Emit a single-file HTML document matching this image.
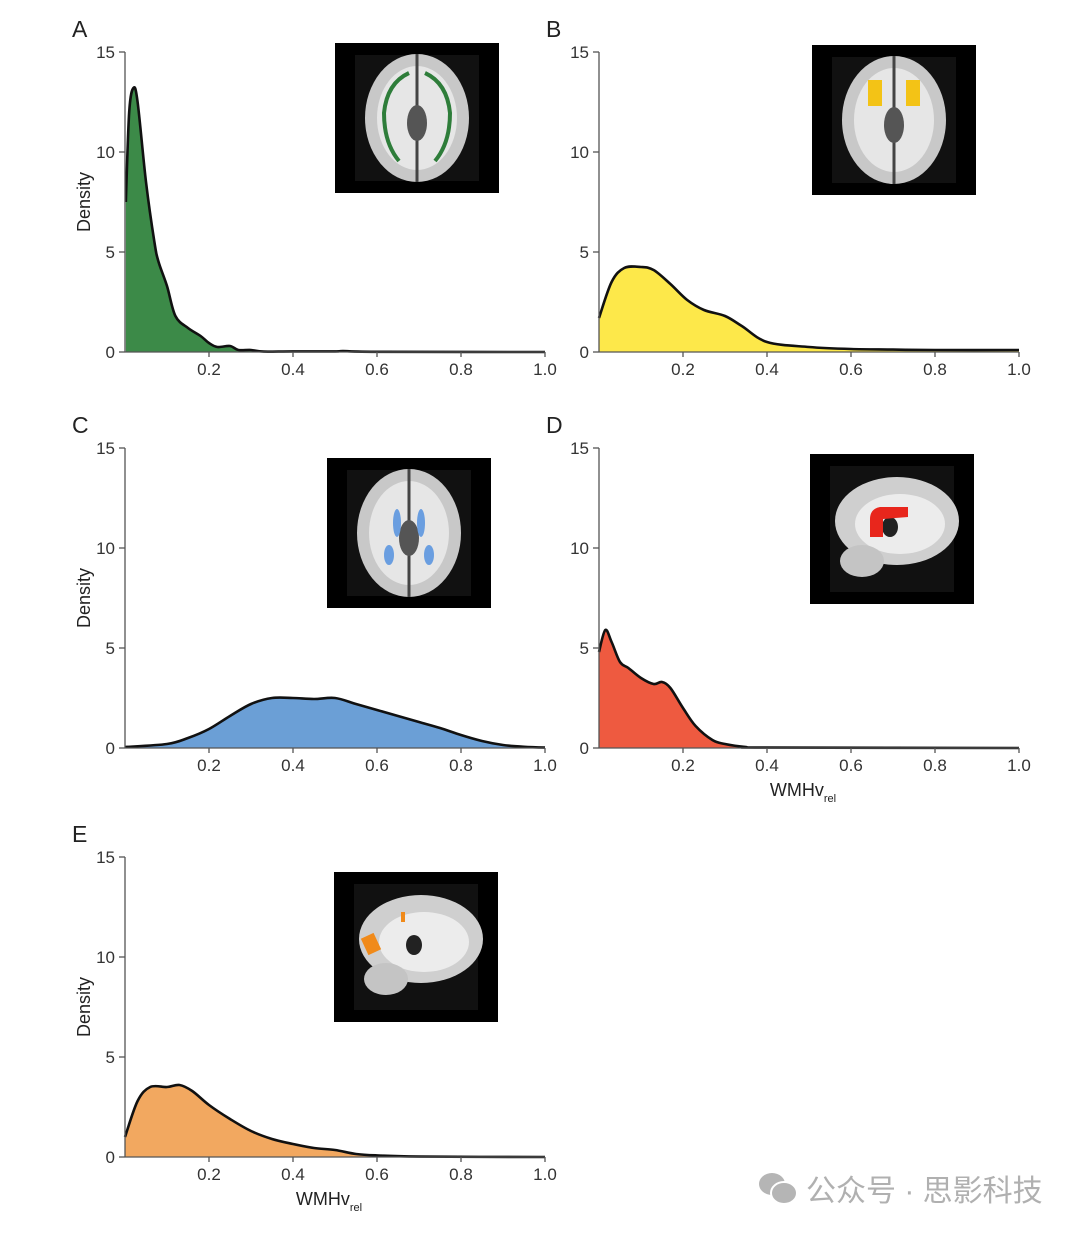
<!DOCTYPE html>
<html><head><meta charset="utf-8">
<style>
body{margin:0;background:#fff;width:1080px;height:1233px;overflow:hidden;font-family:"Liberation Sans","Noto Sans CJK SC",sans-serif;}
svg{display:block}
</style></head>
<body>
<svg id="chart" width="1080" height="1233" viewBox="0 0 1080 1233" xmlns="http://www.w3.org/2000/svg">
<g id="insets"></g>
<g id="panels"></g>
<g>
  <ellipse cx="772" cy="1184" rx="13" ry="11" fill="#b5b5b5"/>
  <ellipse cx="784" cy="1193" rx="13" ry="11" fill="#b5b5b5" stroke="#fff" stroke-width="2"/>
  <text x="806" y="1201" font-size="30" fill="#b0b0b0" font-family="'Liberation Sans','Noto Sans CJK SC',sans-serif">公众号 · 思影科技</text>
</g>
</svg>
<script>
// ---- data ----
const xTicks = [0.2, 0.4, 0.6, 0.8, 1.0];
const xTickLabels = ["0.2", "0.4", "0.6", "0.8", "1.0"];
const yTicks = [0, 5, 10, 15];
const yTickLabels = ["0", "5", "10", "15"];
const panelLetters = ["A", "B", "C", "D", "E"];
const xA = [0.002,0.01,0.02,0.03,0.05,0.07,0.08,0.1,0.12,0.15,0.18,0.2,0.22,0.25,0.27,0.3,0.33,0.4,0.5,0.52,0.6,1.0];
const yA = [7.5,12,13.2,12.5,8.5,5.5,4.5,3.3,1.8,1.2,0.8,0.45,0.25,0.3,0.1,0.1,0.02,0.03,0.03,0.05,0.01,0];
const xB = [0,0.03,0.06,0.1,0.13,0.17,0.21,0.25,0.3,0.34,0.4,0.5,0.6,0.7,0.8,1.0];
const yB = [1.7,3.5,4.2,4.25,4.1,3.4,2.6,2.1,1.8,1.3,0.5,0.25,0.15,0.12,0.1,0.1];
const xC = [0,0.1,0.15,0.2,0.25,0.3,0.35,0.4,0.45,0.5,0.55,0.6,0.65,0.7,0.75,0.8,0.85,0.9,0.95,1.0];
const yC = [0.05,0.2,0.5,0.95,1.6,2.2,2.5,2.5,2.45,2.5,2.2,1.9,1.6,1.3,1.0,0.65,0.35,0.15,0.06,0.02];
const xD = [0,0.015,0.03,0.05,0.07,0.1,0.13,0.15,0.17,0.2,0.23,0.27,0.3,0.35,0.4,1.0];
const yD = [4.8,5.9,5.3,4.3,4.0,3.5,3.2,3.3,3.0,2.0,1.1,0.4,0.2,0.05,0.02,0];
const xE = [0,0.03,0.06,0.1,0.13,0.16,0.2,0.25,0.3,0.35,0.4,0.45,0.5,0.55,0.6,0.7,1.0];
const yE = [1.0,2.8,3.5,3.5,3.6,3.3,2.6,1.9,1.3,0.9,0.65,0.45,0.35,0.15,0.08,0.02,0];

const NS = "http://www.w3.org/2000/svg";
const panels = [
  {id:"a", x0:125, y0:352, xs:xA, ys:yA, fill:"#3c8a48", density:true, xlabel:false},
  {id:"b", x0:599, y0:352, xs:xB, ys:yB, fill:"#fde84a", density:false, xlabel:false},
  {id:"c", x0:125, y0:748, xs:xC, ys:yC, fill:"#6b9fd6", density:true, xlabel:false},
  {id:"d", x0:599, y0:748, xs:xD, ys:yD, fill:"#ee5a40", density:false, xlabel:true},
  {id:"e", x0:125, y0:1157, xs:xE, ys:yE, fill:"#f2a860", density:true, xlabel:true}
];
const W = 420, H = 300;
function mk(tag, attrs, parent){const e=document.createElementNS(NS,tag);for(const k in attrs)e.setAttribute(k,attrs[k]);parent.appendChild(e);return e;}
function smooth(pts){
  let d="M"+pts[0][0]+","+pts[0][1];
  for(let i=0;i<pts.length-1;i++){
    const p0=pts[Math.max(0,i-1)],p1=pts[i],p2=pts[i+1],p3=pts[Math.min(pts.length-1,i+2)];
    const c1x=p1[0]+(p2[0]-p0[0])/6,c1y=p1[1]+(p2[1]-p0[1])/6;
    const c2x=p2[0]-(p3[0]-p1[0])/6,c2y=p2[1]-(p3[1]-p1[1])/6;
    d+=" C"+c1x.toFixed(1)+","+c1y.toFixed(1)+" "+c2x.toFixed(1)+","+c2y.toFixed(1)+" "+p2[0].toFixed(1)+","+p2[1].toFixed(1);
  }
  return d;
}
const root=document.getElementById("panels");
panels.forEach((p,idx)=>{
  const g=mk("g",{},root);
  
  
  const sx=v=>p.x0+v*W, sy=v=>p.y0-v*H/15;
  const pts=p.xs.map((x,i)=>[sx(x),Math.min(p.y0,sy(p.ys[i]))]);
  const line=smooth(pts);
  const area=mk("path",{d:line+" L"+sx(p.xs[p.xs.length-1])+","+p.y0+" L"+sx(p.xs[0])+","+p.y0+" Z",fill:p.fill,stroke:"none"},g);
  
  
  const ln=mk("path",{d:line,fill:"none",stroke:"#111","stroke-width":2.6,"stroke-linejoin":"round"},g);
  
  
  const ax=mk("g",{stroke:"#555","stroke-width":1.3},g);
  
  
  mk("line",{x1:p.x0,y1:p.y0,x2:p.x0+W,y2:p.y0},ax);
  mk("line",{x1:p.x0,y1:p.y0,x2:p.x0,y2:p.y0-H},ax);
  yTicks.forEach((t,i)=>{
    mk("line",{x1:p.x0-6,x2:p.x0,y1:sy(t),y2:sy(t)},ax);
    const tx=mk("text",{x:p.x0-10,y:sy(t)+6,"font-size":17,fill:"#333","text-anchor":"end"},g);
    tx.textContent=yTickLabels[i];
    
    
  });
  xTicks.forEach((t,i)=>{
    mk("line",{x1:sx(t),x2:sx(t),y1:p.y0,y2:p.y0+5},ax);
    const tx=mk("text",{x:sx(t),y:p.y0+23,"font-size":17,fill:"#333","text-anchor":"middle"},g);
    tx.textContent=xTickLabels[i];
    
    
  });
  const lt=mk("text",{x:p.x0-53,y:p.y0-H-15,"font-size":23,fill:"#222"},g);
  lt.textContent=panelLetters[idx];
  
  
  if(p.density){
    const cy=p.y0-150;
    const dt=mk("text",{x:90,y:cy,"font-size":18,fill:"#222","text-anchor":"middle",transform:"rotate(-90 90 "+cy+")"},g);
    dt.textContent="Density";
    
    
  }
  if(p.xlabel){
    const xt=mk("text",{x:p.x0+W/2-6,y:p.y0+48,"font-size":18,fill:"#222","text-anchor":"middle"},g);
    xt.innerHTML='WMHv<tspan font-size="11" dy="6">rel</tspan>';
    
    
  }
});
// insets (brain images)
const ins=[
  {x:335,y:43,type:"axial",c:"#2e7d3a"},
  {x:812,y:45,type:"axial",c:"#f3c316"},
  {x:327,y:458,type:"axial",c:"#6a9ee0"},
  {x:810,y:454,type:"sag",c:"#e8261c"},
  {x:334,y:872,type:"sag",c:"#f08a1a"}
];
const ig=document.getElementById("insets");
ins.forEach((b,i)=>{
  const g=mk("g",{},ig);
  
  
  mk("rect",{x:b.x,y:b.y,width:164,height:150,fill:"#000"},g);
  mk("rect",{x:b.x+20,y:b.y+12,width:124,height:126,fill:"#111"},g);
  const cx=b.x+82, cy=b.y+75;
  if(b.type==="axial"){
    mk("ellipse",{cx:cx,cy:cy,rx:52,ry:64,fill:"#c8c8c8"},g);
    mk("ellipse",{cx:cx,cy:cy,rx:40,ry:52,fill:"#e6e6e6"},g);
    mk("rect",{x:cx-1.5,y:cy-64,width:3,height:128,fill:"#444"},g);
    mk("ellipse",{cx:cx,cy:cy+5,rx:10,ry:18,fill:"#555"},g);
    if(i===0){mk("path",{d:`M${cx-8},${cy-45} q-22,10 -25,40 q0,30 15,48 M${cx+8},${cy-45} q22,10 25,40 q0,30 -15,48`,fill:"none",stroke:b.c,"stroke-width":4},g);}
    if(i===1){mk("rect",{x:cx-26,y:cy-40,width:14,height:26,fill:b.c},g);mk("rect",{x:cx+12,y:cy-40,width:14,height:26,fill:b.c},g);}
    if(i===2){mk("ellipse",{cx:cx-12,cy:cy-10,rx:4,ry:14,fill:b.c},g);mk("ellipse",{cx:cx+12,cy:cy-10,rx:4,ry:14,fill:b.c},g);mk("ellipse",{cx:cx-20,cy:cy+22,rx:5,ry:10,fill:b.c},g);mk("ellipse",{cx:cx+20,cy:cy+22,rx:5,ry:10,fill:b.c},g);}
  } else {
    mk("ellipse",{cx:cx+5,cy:cy-8,rx:62,ry:44,fill:"#cfcfcf"},g);
    mk("ellipse",{cx:cx+8,cy:cy-5,rx:45,ry:30,fill:"#ececec"},g);
    mk("ellipse",{cx:cx-30,cy:cy+32,rx:22,ry:16,fill:"#c4c4c4"},g);
    mk("ellipse",{cx:cx-2,cy:cy-2,rx:8,ry:10,fill:"#222"},g);
    if(i===3){mk("path",{d:`M${cx-22},${cy+8} l0,-18 q0,-10 10,-12 l28,0 l0,10 l-25,2 l0,18 z`,fill:b.c},g);}
    if(i===4){mk("rect",{x:cx-52,y:cy-12,width:14,height:18,fill:b.c,transform:`rotate(-25 ${cx-45} ${cy-3})`},g);mk("rect",{x:cx-15,y:cy-35,width:4,height:10,fill:b.c},g);}
  }
});
</script>
</body></html>
